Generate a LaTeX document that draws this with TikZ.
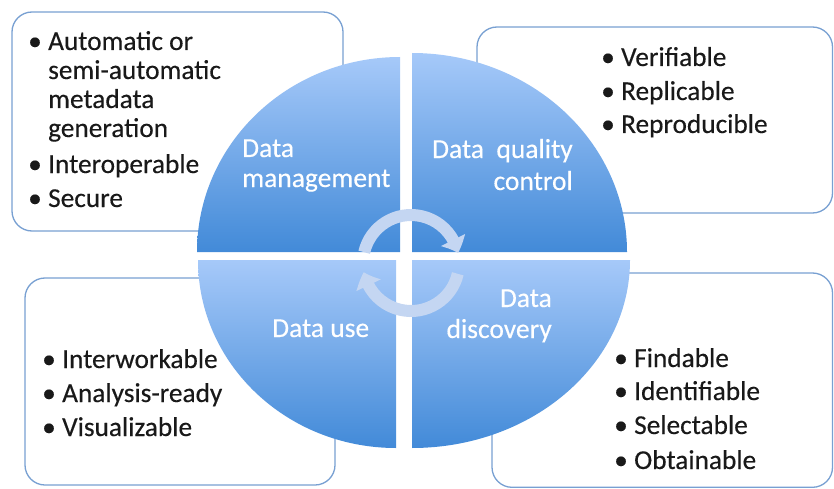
\documentclass[tikz,border=0pt]{standalone}
\usepackage{fontspec}
\setmainfont{Carlito}[FakeBold=0.3]
\newfontfamily\lblfont{Carlito}[FakeBold=0.3]
\usetikzlibrary{arrows.meta,bending}
\definecolor{boxline}{RGB}{120,160,210}
\definecolor{qtop}{RGB}{166,201,249}
\definecolor{qbot}{RGB}{66,138,216}
\definecolor{arrowcol}{RGB}{196,214,242}
\tikzset{
  infobox/.style={draw=boxline,line width=1.3pt,rounded corners=20pt,fill=white},
  quad/.style={top color=qtop,bottom color=qbot},
  item/.style={inner sep=0pt,font=\fontsize{27.3}{29}\selectfont,text=black!90},
  qlabel/.style={inner sep=0pt,font=\fontsize{27.5}{29}\selectfont,text=white},
  cyc/.style={line width=12pt,draw=arrowcol,-{Triangle[width=26pt,length=14pt,bend]}}
}
\newcommand{\bul}[1]{\makebox[20pt][l]{\textbullet}#1}
\begin{document}
\begin{tikzpicture}[x=1pt,y=1pt]
\useasboundingbox (0,0) rectangle (834,488);
% boxes
\draw[infobox] (12,257) rectangle (343,476);
\draw[infobox] (477,275) rectangle (832.5,461);
\draw[infobox] (25,3) rectangle (335,210);
\draw[infobox] (492,0.7) rectangle (832.5,215);
% quadrants
\shade[quad] (400,236) -- (197,236) arc[start angle=180,end angle=90,x radius=203,y radius=195] -- cycle;
\shade[quad] (412,236) -- (412,435) arc[start angle=90,end angle=0,x radius=215,y radius=199] -- cycle;
\shade[quad] (396,228) -- (198,228) arc[start angle=180,end angle=270,x radius=198,y radius=188] -- cycle;
\shade[quad] (412,228) -- (630,228) arc[start angle=0,end angle=-90,x radius=218,y radius=188] -- cycle;
% cycle arrows
\coordinate (cc) at (411,225);
\draw[cyc] ([shift={(167:48)}]cc) arc[start angle=167,end angle=12,radius=48];
\draw[cyc] ([shift={(-13:48)}]cc) arc[start angle=-13,end angle=-169,radius=48];
% quadrant labels
\node[qlabel,anchor=base west] (l1a) at (242,331) {Data};
\node[qlabel,anchor=base west] (l1b) at (242,301) {management};
\node[qlabel,anchor=base east] (l2a) at (573,330) {Data\ \ quality};
\node[qlabel,anchor=base east] (l2b) at (573,298) {control};
\node[qlabel,anchor=base west] (l3a) at (272,151) {Data use};
\node[qlabel,anchor=base east] (l4a) at (552,181) {Data};
\node[qlabel,anchor=base east] (l4b) at (552,150) {discovery};
% top-left list
\node[item,anchor=base west] (a1) at (28,438) {\bul{Automatic or}};
\node[item,anchor=base west] (a2) at (48,409) {semi-automatic};
\node[item,anchor=base west] (a3) at (48,380) {metadata};
\node[item,anchor=base west] (a4) at (48,351) {generation};
\node[item,anchor=base west] (a5) at (28,315) {\bul{Interoperable}};
\node[item,anchor=base west] (a6) at (28,281) {\bul{Secure}};
% top-right list
\node[item,anchor=base west] (b1) at (601,422) {\bul{Verifiable}};
\node[item,anchor=base west] (b2) at (601,388) {\bul{Replicable}};
\node[item,anchor=base west] (b3) at (601,355) {\bul{Reproducible}};
% bottom-left list
\node[item,anchor=base west] (c1) at (42,120) {\bul{Interworkable}};
\node[item,anchor=base west] (c2) at (42,86) {\bul{Analysis-ready}};
\node[item,anchor=base west] (c3) at (42,52) {\bul{Visualizable}};
% bottom-right list
\node[item,anchor=base west] (d1) at (614,121) {\bul{Findable}};
\node[item,anchor=base west] (d2) at (614,88) {\bul{Identifiable}};
\node[item,anchor=base west] (d3) at (614,54) {\bul{Selectable}};
\node[item,anchor=base west] (d4) at (614,19) {\bul{Obtainable}};
\end{tikzpicture}
\end{document}
